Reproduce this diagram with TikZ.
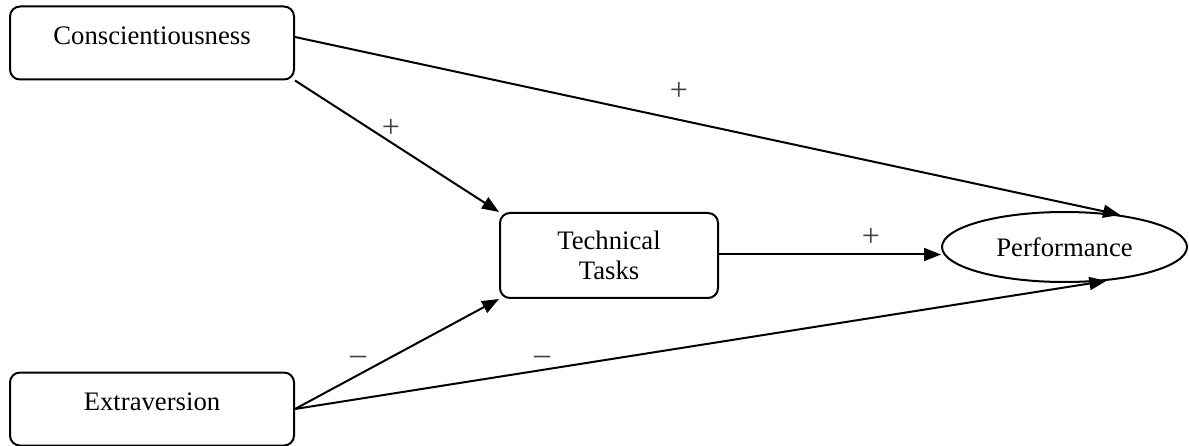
\documentclass[tikz,border=0pt]{standalone}
\usepackage{fontspec}
\setmainfont{Liberation Serif}
\usetikzlibrary{arrows.meta,shapes.geometric}
\begin{document}
\begin{tikzpicture}[x=1pt,y=-1pt,
  every node/.style={font=\fontsize{26.7}{30.5}\selectfont},
  box/.style={draw, line width=2pt, rounded corners=10pt, inner sep=0pt, align=center},
  sidebox/.style={box, minimum width=284pt, minimum height=73pt, text height=18pt, text depth=15pt},
  oval/.style={draw, ellipse, line width=2pt, inner sep=0pt, minimum width=245pt, minimum height=70pt},
  conn/.style={line width=2pt, -{Triangle[length=17pt,width=13pt]}},
  sign/.style={text=black!75, inner sep=0pt, font=\fontsize{32}{36}\selectfont}
]
\useasboundingbox (0,0) rectangle (1189,446);
\node[sidebox] (cons) at (152,43) {Conscientiousness};
\node[sidebox] (extr) at (152,409) {Extraversion};
\node[box, minimum width=218pt, minimum height=85pt] (tech) at (609,255.5) {Technical\\Tasks};
\node[oval] (perf) at (1064.5,247) {Performance};

\draw[conn] ([yshift=6pt]cons.east) -- (perf.30);
\draw[conn] (cons.south east) -- (tech.north west);
\draw[conn] ([yshift=1pt]tech.east) -- ([yshift=1pt]tech.east -| perf.west);
\draw[conn] (extr.east) -- (tech.south west);
\draw[conn] (extr.east) -- (perf.-39);

\node[sign] (s1) at (679,91) {+};
\node[sign] (s2) at (391,128) {+};
\node[sign] (s3) at (871,237) {+};
\node[sign] (s4) at (358,360) {–};
\node[sign] (s5) at (542,360) {–};
\end{tikzpicture}
\end{document}
